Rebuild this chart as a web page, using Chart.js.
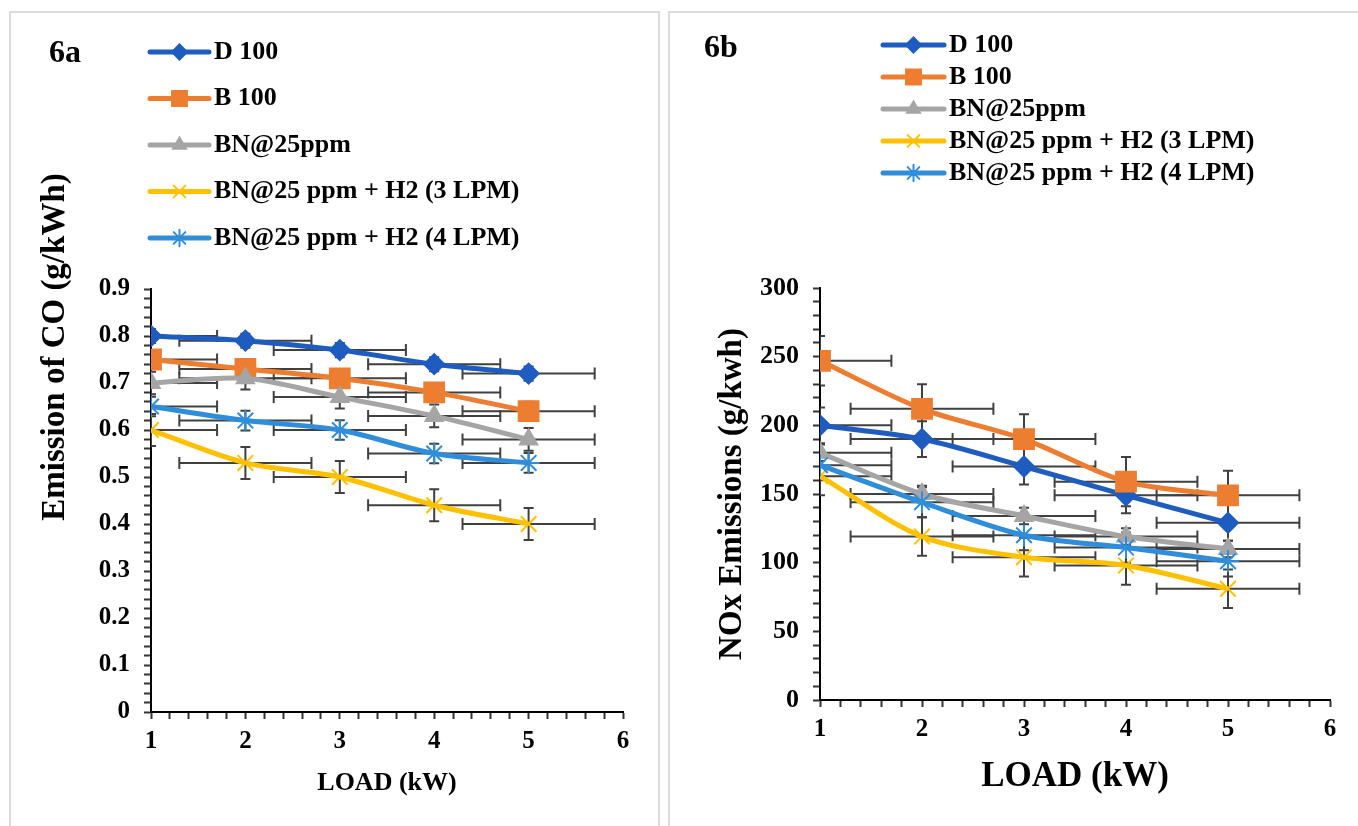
<!DOCTYPE html>
<html>
<head>
<meta charset="utf-8">
<script src="https://cdn.jsdelivr.net/npm/chart.js@4"></script>
<style>
  body { margin: 0; background: #fff; }
  .panel { position: absolute; border: 2px solid #dcdcdc; box-sizing: border-box; }
  canvas { position: absolute; }
</style>
</head>
<body>
<div class="panel" style="left:9px;top:11px;width:651px;height:830px"></div>
<div class="panel" style="left:668px;top:11px;width:700px;height:830px"></div>
<canvas id="coChart" width="644" height="812" style="left:12px;top:14px"></canvas>
<canvas id="noxChart" width="686" height="812" style="left:672px;top:14px"></canvas>
<script>
// --- data ---
const loads = [1, 2, 3, 4, 5];
const seriesNames = ["D 100", "B 100", "BN@25ppm", "BN@25 ppm + H2 (3 LPM)", "BN@25 ppm + H2 (4 LPM)"];

// 6a: CO emission (g/kWh)
const coD100 = [0.80, 0.79, 0.77, 0.74, 0.72];
const coB100 = [0.75, 0.73, 0.71, 0.68, 0.64];
const coBN25 = [0.70, 0.71, 0.67, 0.63, 0.58];
const coH2_3 = [0.60, 0.53, 0.50, 0.44, 0.40];
const coH2_4 = [0.65, 0.62, 0.60, 0.55, 0.53];
const coErr = [0.015, 0.02, 0.024, 0.034, 0.021];

// 6b: NOx emission (g/kwh)
const noxD100 = [200, 190, 170, 149, 129];
const noxB100 = [247, 212, 190, 159, 149];
const noxBN25 = [180, 150, 134, 119, 110];
const noxH2_3 = [163, 119, 104, 98, 81];
const noxH2_4 = [171, 144, 120, 111, 101];
const noxErr = [13, 18, 6, 14, 11];

const loadErr = 0.7;

const FONT = '"Liberation Serif", "Times New Roman", serif';

const looks = [
  { color: '#1F5CBF', pointStyle: 'rectRot', r: 10 },
  { color: '#ED7D31', pointStyle: 'rect', r: 14 },
  { color: '#A5A5A5', pointStyle: 'triangle', r: 10 },
  { color: '#FFC000', pointStyle: 'crossRot', r: 11 },
  { color: '#2F8DDA', pointStyle: 'star', r: 11 }
];

// horizontal + vertical error bars, drawn through the scales
const errorBars = {
  id: 'errorBars',
  beforeDatasetsDraw(chart) {
    const { ctx, chartArea: a, scales: { x, y } } = chart;
    ctx.save();
    ctx.beginPath();
    ctx.rect(a.left, a.top - 1, a.right - a.left, a.bottom - a.top + 1);
    ctx.clip();
    ctx.strokeStyle = '#404040';
    ctx.lineWidth = 2;
    chart.data.datasets.forEach(ds => {
      ds.data.forEach(p => {
        const px = x.getPixelForValue(p.x), py = y.getPixelForValue(p.y);
        const xa = x.getPixelForValue(p.x - ds.xErr), xb = x.getPixelForValue(p.x + ds.xErr);
        const ya = y.getPixelForValue(p.y - ds.yErr), yb = y.getPixelForValue(p.y + ds.yErr);
        ctx.beginPath();
        ctx.moveTo(xa, py); ctx.lineTo(xb, py);
        ctx.moveTo(xa, py - 6); ctx.lineTo(xa, py + 6);
        ctx.moveTo(xb, py - 6); ctx.lineTo(xb, py + 6);
        ctx.moveTo(px, ya); ctx.lineTo(px, yb);
        ctx.moveTo(px - 5, ya); ctx.lineTo(px + 5, ya);
        ctx.moveTo(px - 5, yb); ctx.lineTo(px + 5, yb);
        ctx.stroke();
      });
    });
    ctx.restore();
  }
};

// stacked legend, panel tag and (optionally) a free y title
const extras = {
  id: 'extras',
  afterDraw(chart, args, o) {
    const ctx = chart.ctx;
    ctx.save();
    ctx.textBaseline = 'middle';
    ctx.font = 'bold ' + o.legendSize + 'px ' + FONT;
    chart.data.datasets.forEach((ds, i) => {
      const y = o.legendTop + i * o.legendGap;
      ctx.strokeStyle = ds.borderColor;
      ctx.lineWidth = 5;
      ctx.lineCap = 'round';
      ctx.beginPath();
      ctx.moveTo(o.legendLeft, y);
      ctx.lineTo(o.legendLeft + o.lineLen, y);
      ctx.stroke();
      ctx.fillStyle = ds.pointBackgroundColor;
      ctx.strokeStyle = ds.pointBorderColor;
      ctx.lineWidth = ds.pointBorderWidth;
      Chart.helpers.drawPoint(ctx, { pointStyle: ds.pointStyle, radius: ds.pointRadius * 0.75, rotation: 0, borderWidth: ds.pointBorderWidth },
        o.legendLeft + o.lineLen / 2, y);
      ctx.fillStyle = '#000';
      ctx.textAlign = 'left';
      ctx.fillText(ds.label, o.legendLeft + o.lineLen + 5, y);
    });
    ctx.font = 'bold 32px ' + FONT;
    ctx.fillText(o.tag, o.tagX, o.tagY);
    if (o.yTitle) {
      ctx.translate(o.yTitleX, o.yTitleY);
      ctx.rotate(-Math.PI / 2);
      ctx.textAlign = 'center';
      ctx.font = 'bold 33px ' + FONT;
      ctx.fillText(o.yTitle, 0, 0);
    }
    ctx.restore();
  }
};

function buildDatasets(seriesList, errs) {
  return seriesList.map((vals, i) => ({
    label: seriesNames[i],
    data: loads.map((l, j) => ({ x: l, y: vals[j] })),
    xErr: loadErr,
    yErr: errs[i],
    borderColor: looks[i].color,
    backgroundColor: looks[i].color,
    pointBackgroundColor: looks[i].color,
    pointBorderColor: looks[i].color,
    pointBorderWidth: 2,
    pointStyle: looks[i].pointStyle,
    pointRadius: looks[i].r,
    borderWidth: 5,
    tension: 0.3,
    order: 5 - i
  }));
}

function axisFont(size) {
  return { family: FONT, size: size, weight: 'bold' };
}

function makeChart(id, datasets, cfg) {
  return new Chart(document.getElementById(id), {
    type: 'line',
    data: { datasets },
    plugins: [errorBars, extras],
    options: {
      responsive: false,
      animation: false,
      devicePixelRatio: 1,
      layout: { padding: { left: 0, top: cfg.top, right: cfg.right, bottom: 0 } },
      plugins: {
        legend: { display: false },
        tooltip: { enabled: false },
        extras: cfg.extras
      },
      scales: {
        x: {
          type: 'linear', min: 1, max: 6,
          ticks: {
            stepSize: 0.2, autoSkip: false, maxRotation: 0, padding: 8, color: '#000',
            font: axisFont(25),
            callback: v => Math.abs(v - Math.round(v)) < 1e-6 ? String(Math.round(v)) : ''
          },
          grid: { drawOnChartArea: false, drawTicks: true, tickLength: 7, tickColor: '#333', tickWidth: 2 },
          border: { color: '#000', width: 2 },
          title: { display: true, text: 'LOAD (kW)', color: '#000', font: axisFont(cfg.xTitleSize), padding: { top: 0, bottom: cfg.xTitlePad } },
          afterFit: s => { s.height = cfg.xHeight; }
        },
        y: {
          min: 0, max: cfg.yMax,
          ticks: {
            stepSize: cfg.yMinor, autoSkip: false, padding: 14, color: '#000',
            font: axisFont(cfg.yTickSize),
            callback: cfg.yLabel
          },
          grid: { drawOnChartArea: false, drawTicks: true, tickLength: 7, tickColor: '#333', tickWidth: 2 },
          border: { color: '#000', width: 2 },
          title: cfg.yTitle,
          afterFit: s => { s.width = cfg.yWidth; }
        }
      }
    }
  });
}

makeChart('coChart', buildDatasets([coD100, coB100, coBN25, coH2_3, coH2_4], coErr), {
  top: 275, right: 33, xHeight: 114, yWidth: 139,
  xTitleSize: 26, xTitlePad: 27,
  yMax: 0.9, yMinor: 0.02, yTickSize: 25,
  yLabel: v => Math.abs(v * 10 - Math.round(v * 10)) < 1e-6 ? (v === 0 ? '0' : v.toFixed(1)) : '',
  yTitle: { display: false },
  extras: {
    legendLeft: 138, legendTop: 38, legendGap: 46.5, lineLen: 59, legendSize: 26,
    tag: '6a', tagX: 37, tagY: 40,
    yTitle: 'Emission of CO (g/kWh)', yTitleX: 43, yTitleY: 333
  }
});

makeChart('noxChart', buildDatasets([noxD100, noxB100, noxBN25, noxH2_3, noxH2_4], noxErr), {
  top: 274, right: 28, xHeight: 126, yWidth: 148,
  xTitleSize: 35, xTitlePad: 28,
  yMax: 300, yMinor: 10, yTickSize: 26,
  yLabel: v => (Math.round(v) % 50 === 0 ? String(Math.round(v)) : ''),
  yTitle: { display: true, text: 'NOx Emissions (g/kwh)', color: '#000', font: axisFont(33), padding: { top: 41, bottom: 0 } },
  extras: {
    legendLeft: 211, legendTop: 31, legendGap: 32, lineLen: 61, legendSize: 26,
    tag: '6b', tagX: 32, tagY: 35
  }
});
</script>
</body>
</html>
